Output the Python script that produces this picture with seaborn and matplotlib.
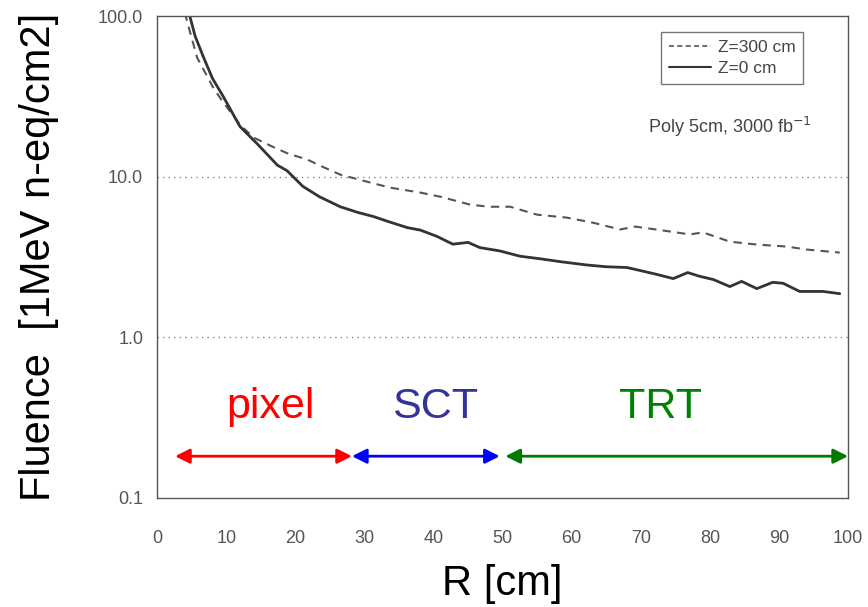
import matplotlib
matplotlib.use("Agg")
import matplotlib.pyplot as plt
import seaborn as sns
import pandas as pd
from matplotlib.ticker import FixedLocator, LogLocator, NullFormatter
from matplotlib.lines import Line2D

# ---- data ----
r_z0 = [4.6, 5.5, 6.7, 8.0, 9.6, 12.0, 14.5, 17.4, 18.8, 21.1, 23.5, 26.5, 29.0, 31.3,
        33.5, 36.2, 38.1, 40.5, 42.8, 45.0, 46.7, 49.6, 52.5, 55.5, 58.3, 62.2, 65.0,
        68.0, 70.0, 72.4, 74.7, 76.8, 78.5, 80.5, 82.9, 84.6, 86.8, 89.1, 90.6, 93.0,
        96.4, 98.8]
f_z0 = [105, 75, 55.6, 41, 31.4, 20.5, 16.0, 11.8, 10.9, 8.7, 7.5, 6.5, 6.0, 5.65,
        5.25, 4.82, 4.65, 4.25, 3.8, 3.9, 3.62, 3.45, 3.2, 3.08, 2.96, 2.82, 2.75,
        2.72, 2.6, 2.46, 2.32, 2.53, 2.40, 2.29, 2.07, 2.23, 2.01, 2.2, 2.17, 1.93,
        1.93, 1.87]
r_z300 = [4.0, 4.3, 5.8, 8.1, 9.1, 12.0, 14.0, 16.8, 19.0, 21.7, 24.0, 26.5, 30.0, 33.7,
          38.1, 41.0, 45.3, 48.0, 51.1, 55.0, 59.3, 63.1, 67.0, 69.2, 73.3, 77.1, 79.0,
          82.9, 86.8, 91.2, 94.0, 98.8]
f_z300 = [105, 94, 55, 36, 31, 21.0, 17.5, 15.3, 13.9, 12.8, 11.5, 10.3, 9.4, 8.55,
          7.96, 7.5, 6.7, 6.5, 6.5, 5.8, 5.56, 5.17, 4.69, 4.89, 4.62, 4.37, 4.5,
          3.94, 3.78, 3.67, 3.52, 3.37]

series_labels = ["Z=300 cm", "Z=0 cm"]
regions = ["pixel", "SCT", "TRT"]
region_bounds = [(2.6, 28.2), (28.2, 49.6), (50.4, 100.0)]
region_colors = ["#ff0000", "#0000ff", "#007a00"]
region_text_colors = ["#ff0000", "#333399", "#008000"]
region_text_x = [16.4, 40.2, 72.8]

ytick_vals = [0.1, 1.0, 10.0, 100.0]
ytick_labels = ["0.1", "1.0", "10.0", "100.0"]
xtick_vals = list(range(0, 101, 10))

df0 = pd.DataFrame({"R": r_z0, "F": f_z0})
df300 = pd.DataFrame({"R": r_z300, "F": f_z300})

sns.set_style("white")
plt.rcParams["font.family"] = ["Liberation Sans", "DejaVu Sans"]

fig = plt.figure(figsize=(8.68, 6.07), dpi=100)
ax = fig.add_axes([0.181, 0.1796, 0.796, 0.794])

sns.lineplot(data=df300, x="R", y="F", ax=ax, color="#555555", lw=1.5,
             linestyle=(0, (4, 3)), sort=False)
sns.lineplot(data=df0, x="R", y="F", ax=ax, color="#333333", lw=2.0, sort=False)

ax.set_yscale("log")
ax.set_xlim(0, 100)
ax.set_ylim(0.1, 100)

# grid
for yv in [1.0, 10.0]:
    ax.axhline(yv, color="#8a8a8a", lw=1.0, linestyle=(0, (1, 3)), zorder=0)

ax.yaxis.set_major_locator(FixedLocator(ytick_vals))
ax.set_yticklabels(ytick_labels)
ax.yaxis.set_minor_locator(LogLocator(base=10, subs=range(2, 10)))
ax.yaxis.set_minor_formatter(NullFormatter())
ax.set_xticks(xtick_vals)
ax.set_xticklabels([str(v) for v in xtick_vals])

ax.tick_params(axis="both", which="both", direction="in", colors="#555555",
               labelcolor="#555555", labelsize=13, top=False, right=False)
ax.tick_params(axis="both", which="major", length=5, width=0.8)
ax.tick_params(axis="y", which="minor", length=3, width=0.6)
ax.tick_params(axis="x", pad=23)
ax.tick_params(axis="y", pad=10)
for sp in ax.spines.values():
    sp.set_color("#555555")
    sp.set_linewidth(1.0)

ax.set_xlabel("R [cm]", fontsize=30, color="black", labelpad=12)
ax.set_ylabel("Fluence  [1MeV n-eq/cm2]", fontsize=30, color="black", labelpad=28)

# legend
handles = [Line2D([], [], color="#555555", lw=1.2, linestyle=(0, (3, 2))),
           Line2D([], [], color="#333333", lw=1.5)]
leg = ax.legend(handles, series_labels, loc="upper right", bbox_to_anchor=(0.948, 0.985),
                fontsize=12.5, frameon=True, fancybox=False, handlelength=2.4,
                handletextpad=0.4, borderpad=0.45, labelspacing=0.35)
leg.get_frame().set_edgecolor("#555555")
leg.get_frame().set_linewidth(1.0)
for t in leg.get_texts():
    t.set_color("#444444")

ax.text(0.948, 0.77, "Poly 5cm, 3000 fb$^{-1}$", transform=ax.transAxes,
        ha="right", va="center", fontsize=13, color="#444444")

# detector region arrows
for name, (x0, x1), c, tc, tx in zip(regions, region_bounds, region_colors,
                                     region_text_colors, region_text_x):
    ax.annotate("", xy=(x1, 0.182), xytext=(x0, 0.182), xycoords="data",
                arrowprops=dict(arrowstyle="<|-|>", color=c, lw=2.0,
                                mutation_scale=22, shrinkA=0, shrinkB=0),
                annotation_clip=False)
    ax.text(tx, 0.37, name, color=tc, fontsize=31, ha="center", va="center")

fig.savefig("out.png", dpi=100, facecolor="white")
